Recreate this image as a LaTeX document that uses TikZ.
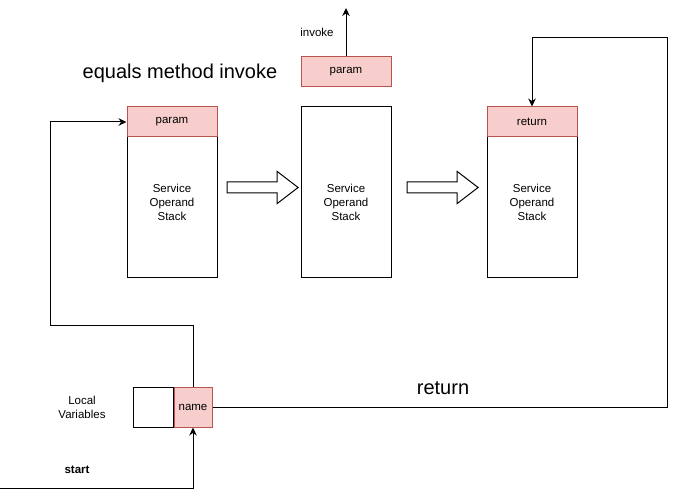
\documentclass[tikz,border=0pt]{standalone}
\usepackage{fontspec}
\setmainfont{Liberation Sans}
\usetikzlibrary{positioning,shapes.arrows,arrows.meta}
\definecolor{pinkfill}{HTML}{F8CECC}
\definecolor{pinkline}{HTML}{B85450}

\begin{document}
\begin{tikzpicture}[x=1pt, y=-1pt, line width=1pt,
  font=\fontsize{11.5}{14}\selectfont,
  >={Stealth[length=8pt, width=7.5pt]},
  stackbox/.style={draw, fill=white, minimum width=90pt, minimum height=170pt},
  header/.style={draw=pinkline, fill=pinkfill, minimum width=90pt, minimum height=30pt, inner sep=0pt},
  blockarrow/.style={single arrow, draw, inner sep=0pt, inner ysep=5pt, minimum height=71pt,
    single arrow head extend=10.5pt, single arrow tip angle=75},
  bigtext/.style={font=\fontsize{20}{24}\selectfont}]

\useasboundingbox (0,0) rectangle (677,497);

% Stacks
\node (stackA) [stackbox, label={[align=center, yshift=-10pt]center:Service\\Operand\\Stack}] at (172,192) {};
\node (stackB) [stackbox, label={[align=center, yshift=-10pt]center:Service\\Operand\\Stack}] at (346,192) {};
\node (stackC) [stackbox, label={[align=center, yshift=-10pt]center:Service\\Operand\\Stack}] at (532,192) {};
\node (paramA) [header] at (172,122) {param};
\node (returnC) [header] at (532,122) {return};
\node (paramB) [header] at (346,72) {param};

% Block arrows between stacks
\node (flowAB) [blockarrow] at (259,187.5) {};
\node (flowBC) [blockarrow] at (439,187.5) {};

% Texts
\node (title) [bigtext] at (180,73) {equals method invoke};
\node (invokeLabel) at (317,32) {invoke};
\node (returnLabel) [bigtext] at (443,388) {return};
\node (localLabel) [align=center] at (82,407) {Local\\Variables};
\node (startLabel) [font=\fontsize{11.5}{14}\selectfont\bfseries] at (77,470) {start};

% Local variables
\node (localBox) [draw, minimum width=40pt, minimum height=40pt, inner sep=0pt] at (153,407) {};
\node (nameBox) [header, minimum width=38pt, minimum height=40pt, right=0pt of localBox] {name};

% Corners
\coordinate (invokeEnd) at (346,8);
\coordinate (loopA) at (50,325);
\coordinate (loopB) at (50,122);
\coordinate (loopC) at (667,38);
\coordinate (startPt) at (0,488);

% Connectors
\draw[->] (paramB) -- (invokeEnd);
\draw[->] (nameBox.north) |- (loopA) -- (loopB) -- (paramA.west);
\draw[->] (nameBox.east) -| (loopC) -| (returnC.north);
\draw[->] (startPt) -| (nameBox.south);

\end{tikzpicture}
\end{document}
